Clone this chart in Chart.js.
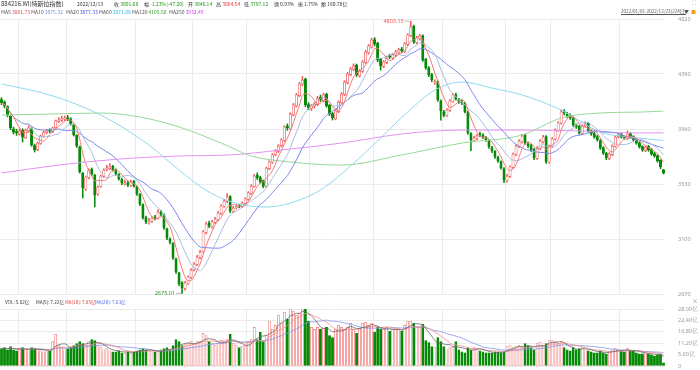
<!DOCTYPE html>
<html>
<head>
<meta charset="utf-8">
<script src="https://cdn.jsdelivr.net/npm/chart.js@4.4.1/dist/chart.umd.min.js"></script>
<style>
  body { margin: 0; background: #fff; font-family: "Noto Sans CJK SC", "Noto Sans", sans-serif; }
  #wrap { position: relative; width: 700px; height: 370px; overflow: hidden; }
  .t { position: absolute; white-space: nowrap; font-size: 5px; line-height: 8px; color: #333; }
  .g { color: #149614; }
  .r { color: #e03434; }
  canvas { position: absolute; left: 0; }
</style>
</head>
<body>
<div id="wrap">
  <canvas id="main" width="700" height="298" style="top:0"></canvas>
  <canvas id="vol" width="700" height="74" style="top:296px"></canvas>

  <div class="t" style="left:1px;top:0;font-size:6px">884216.WI(特斯拉指数)</div>
  <div class="t" style="left:77px;top:0">2022/12/13</div>
  <div class="t" style="left:114px;top:0">收 <span class="g">3801.68</span></div>
  <div class="t" style="left:144px;top:0">幅 <span class="g">-1.23%(-47.20)</span></div>
  <div class="t" style="left:188px;top:0">开 <span class="g">3846.14</span></div>
  <div class="t" style="left:216px;top:0">高 <span class="r">3864.54</span></div>
  <div class="t" style="left:244px;top:0">低 <span class="g">3797.12</span></div>
  <div class="t" style="left:274px;top:0">换 0.93%</div>
  <div class="t" style="left:298px;top:0">振 1.75%</div>
  <div class="t" style="left:321px;top:0">额 160.78亿</div>

  <div class="t" style="left:1px;top:8px;color:#555">MA5 <span style="color:#e84848">3861.73</span></div>
  <div class="t" style="left:31px;top:8px;color:#555">MA10 <span style="color:#6f95d2">3875.32</span></div>
  <div class="t" style="left:66px;top:8px;color:#555">MA20 <span style="color:#3d52e0">3877.33</span></div>
  <div class="t" style="left:99px;top:8px;color:#555">MA60 <span style="color:#2eb4e6">3871.88</span></div>
  <div class="t" style="left:132px;top:8px;color:#555">MA120 <span style="color:#37a037">4105.58</span></div>
  <div class="t" style="left:169px;top:8px;color:#555">MA250 <span style="color:#c43fe0">3932.49</span></div>

  <div class="t" style="left:621px;top:7px;font-size:4.6px;color:#555;text-decoration:underline">2022/01/01-2022/12/23(224日)</div>
  <div class="t" style="left:684px;top:7px;font-size:5px;color:#555">▼</div>
  <div class="t" style="left:691px;top:7px;font-size:5px;color:#f0a020">■</div>
  <div class="t" style="left:692px;top:-1px;font-size:6px;color:#aaa">⛶</div>

  <div class="t" style="left:5px;top:298px;font-size:4.6px">VOL: 5.82亿</div>
  <div class="t" style="left:36px;top:298px;font-size:4.6px">MA(5): 7.22亿</div>
  <div class="t r" style="left:65px;top:298px;font-size:4.6px">MA(10): 7.85亿</div>
  <div class="t" style="left:95px;top:298px;font-size:4.6px;color:#4a64e8">MA(20): 7.63亿</div>
  <div class="t" style="left:692px;top:297px;font-size:6px;color:#888">×</div>
</div>
<script>
// daily candles, index = trading day in the window
const open = [4190,4170,4135,4060,3960,3940,3920,3950,3890,3945,3962,3830,3800,3848,3903,3930,3950,3940,3970,4020,
  4028,4036,4050,4040,3995,3910,3820,3615,3490,3580,3645,3600,3450,3510,3590,3640,3650,3668,3640,3605,
  3565,3530,3540,3520,3550,3510,3450,3370,3268,3225,3238,3270,3262,3315,3290,3180,3100,3068,2945,2835,
  2760,2712,2750,2800,2860,2900,2955,3000,3150,3225,3195,3230,3250,3300,3355,3395,3432,3315,3345,3362,
  3355,3378,3410,3455,3510,3600,3580,3556,3510,3650,3700,3760,3785,3830,3870,3985,3960,4070,4140,4220,
  4310,4350,4150,4120,4138,4150,4210,4180,4232,4145,4080,4040,4095,4165,4230,4320,4385,4425,4460,4375,
  4410,4480,4555,4600,4660,4630,4505,4450,4480,4530,4515,4535,4560,4585,4565,4620,4690,4765,4635,4665,
  4690,4505,4440,4385,4320,4330,4180,4095,4065,4105,4175,4230,4190,4175,4160,4095,3925,3870,3885,3920,
  3910,3890,3870,3815,3785,3738,3705,3650,3555,3590,3660,3760,3825,3860,3910,3845,3830,3800,3730,3805,
  3860,3900,3700,3825,3880,3950,4005,4098,4080,4065,4045,3990,3980,3925,3985,4005,3940,3925,3900,3870,
  3815,3770,3730,3760,3825,3900,3918,3892,3885,3925,3900,3878,3852,3822,3790,3825,3800,3768,3752,3715,
  3640];
const high = [4205,4180,4142,4066,3975,3958,3960,3962,3960,3985,3970,3842,3858,3912,3945,3958,3962,3975,4030,4050,
  4060,4062,4066,4048,4000,3915,3826,3620,3592,3650,3655,3605,3515,3600,3648,3675,3690,3676,3648,3612,
  3575,3560,3552,3560,3558,3515,3455,3375,3280,3262,3275,3285,3330,3325,3296,3186,3110,3072,2950,2840,
  2768,2770,2812,2868,2915,2972,3012,3165,3232,3240,3245,3270,3315,3370,3410,3455,3440,3355,3365,3372,
  3390,3422,3470,3525,3605,3618,3590,3562,3662,3712,3768,3800,3838,3885,3985,4000,4088,4160,4238,4325,
  4370,4358,4165,4152,4170,4215,4225,4240,4240,4152,4090,4110,4180,4245,4338,4402,4442,4470,4468,4425,
  4495,4575,4620,4670,4675,4638,4512,4495,4528,4545,4552,4575,4592,4598,4636,4705,4803.15,4772,4685,4700,
  4696,4512,4448,4395,4345,4336,4188,4105,4120,4190,4238,4240,4200,4190,4168,4100,3932,3905,3918,3935,
  3925,3902,3878,3825,3792,3748,3712,3658,3605,3672,3772,3838,3878,3918,3918,3860,3840,3808,3822,3878,
  3910,3908,3835,3892,3962,4018,4110,4112,4090,4078,4052,4000,3988,3992,4012,4012,3950,3935,3910,3878,
  3822,3778,3775,3836,3906,3925,3928,3905,3945,3932,3908,3885,3860,3830,3828,3832,3808,3778,3758,3720,
  3645];
const low = [4150,4125,4055,3955,3920,3910,3912,3858,3885,3935,3825,3780,3790,3840,3895,3922,3930,3932,3962,4010,
  4018,4025,4025,3990,3905,3815,3615,3420,3480,3570,3595,3350,3440,3505,3582,3632,3642,3630,3598,3560,
  3525,3520,3510,3512,3505,3440,3360,3255,3220,3215,3230,3250,3255,3280,3175,3095,3062,2940,2830,2735,
  2675.01,2700,2742,2792,2850,2892,2945,2995,3140,3188,3185,3220,3242,3292,3348,3385,3305,3305,3335,3345,
  3346,3370,3402,3448,3505,3565,3535,3500,3505,3642,3692,3750,3776,3820,3862,3950,3955,4062,4132,4212,
  4300,4135,4110,4105,4125,4142,4175,4170,4130,4065,4030,4032,4088,4158,4222,4312,4375,4415,4370,4365,
  4402,4472,4545,4592,4610,4485,4420,4440,4470,4510,4505,4525,4550,4558,4558,4612,4682,4628,4625,4655,
  4488,4425,4370,4330,4308,4175,4030,4055,4058,4098,4168,4185,4160,4150,4085,3918,3790,3860,3875,3900,
  3885,3862,3808,3775,3730,3698,3645,3540,3545,3582,3652,3752,3815,3850,3840,3815,3785,3720,3722,3798,
  3850,3690,3692,3815,3872,3942,3998,4070,4050,4035,3980,3965,3918,3918,3975,3935,3910,3888,3865,3800,
  3760,3720,3720,3752,3818,3890,3888,3880,3878,3888,3865,3840,3810,3785,3782,3785,3755,3738,3700,3650,
  3608];
const close = [4163,4140,4069,3968,3936,3929,3944,3897,3952,3968,3835,3796,3850,3905,3936,3944,3944,3968,4023,4030,
  4038,4046,4038,3999,3913,3827,3624,3499,3585,3639,3608,3444,3506,3592,3639,3655,3663,3639,3608,3569,
  3538,3538,3522,3546,3514,3452,3373,3264,3233,3240,3264,3264,3311,3295,3186,3107,3076,2951,2842,2748,
  2717,2756,2803,2857,2904,2959,2998,3155,3217,3201,3233,3256,3303,3358,3397,3428,3319,3342,3350,3358,
  3381,3413,3460,3514,3592,3577,3546,3514,3655,3702,3757,3788,3827,3874,3976,3968,4077,4148,4226,4312,
  4343,4148,4124,4140,4155,4202,4187,4226,4140,4077,4046,4101,4171,4234,4327,4390,4429,4453,4382,4413,
  4484,4562,4609,4656,4625,4499,4453,4484,4515,4523,4539,4562,4578,4570,4625,4695,4758,4640,4672,4687,
  4499,4437,4382,4343,4327,4187,4101,4069,4108,4179,4226,4194,4171,4163,4093,3929,3874,3890,3905,3913,
  3897,3874,3819,3788,3741,3710,3655,3561,3592,3663,3764,3827,3866,3905,3850,3827,3796,3733,3811,3866,
  3897,3702,3827,3882,3952,4007,4093,4085,4061,4046,3991,3976,3929,3983,3999,3944,3921,3897,3874,3811,
  3772,3733,3764,3827,3897,3913,3897,3890,3921,3897,3874,3850,3819,3796,3819,3796,3764,3749,3710,3663,
  3616];
// volume, 亿
const volume = [8.5,9,8,9.5,8,7.5,8.5,9,8,7.5,9,8.5,8,7.5,7,7,7.5,12,15.5,10,
  9,8,8.5,9,10,11,12,11,10,12,13,12.5,10,9,8,8.5,7.5,7,7,7.5,
  6.5,6.5,7,6.5,7,7.5,8,8.5,8,7.5,7,7,7,8,8.5,9,8,10,13,12,
  10,10.5,11,12,11,12,12,16,15,12,11,10,11,12.5,12,13,15.5,11,10,9,
  9.5,10.5,12,13,19,13,16.5,12,15,22,18,20,25,21,26.5,23,28,27,25,26,
  28,28,22,19,18,19,18,18.5,19,15,14,18,20,19,18,19,21,18,16,18.5,
  21,21.5,20,21,16.5,19,18,18,19,17,18,18,18,17,20,22,22,21,19,19,
  20.5,12.5,11.5,9.5,9,14,12,9.5,8,9,9,12,8,7,6.5,9,8,9,8.5,7.5,
  7,6.5,6.5,6.5,7,7,6.5,7,9.5,10,9,9.5,10,9,11,10,9,8,11,11.5,
  10,11,12.5,12.5,12,11,12,9,8,7.5,9,8,8.5,9,8,7.5,7,6.5,6.5,7.5,
  6.5,6,7,8,8.5,8,7.5,7,8.5,7.5,7.5,6.5,6,6,6.5,6,5.5,5,5.5,5.82,
  1.5];
// long averages: [day index, value]
const ma60Pts = [[0,4312],[16,4226],[33,4069],[49,3835],[59,3639],[69,3467],[79,3373],[88,3350],[96,3381],
  [106,3483],[116,3671],[126,3890],[135,4093],[144,4265],[153,4327],[163,4280],[173,4226],[186,4108],
  [199,3936],[209,3897],[220,3870]];
const ma120Pts = [[0,4069],[16,4077],[33,4085],[46,4054],[59,3976],[73,3850],[83,3749],[96,3702],[113,3678],
  [133,3757],[153,3850],[173,3913],[186,4046],[199,4085],[213,4093],[220,4100]];
const ma250Pts = [[0,3616],[19,3678],[39,3725],[59,3749],[76,3757],[93,3796],[113,3850],[133,3921],
  [153,3952],[173,3952],[193,3944],[209,3929],[220,3930]];
const priceTicks = [2670, 3100, 3530, 3960, 4390, 4820];
const volTicks = [0, 5.6, 11.2, 16.8, 22.4, 28];
const monthStarts = [6, 22, 45, 64, 82, 103, 124, 147, 168, 183, 206];

const RED = '#f05a5a', GREEN = '#078a07';
const days = close.map((_, i) => String(i + 1));
const up = close.map((c, i) => c >= open[i]);

function movingAvg(arr, n) {
  return arr.map((_, i) => {
    const s = arr.slice(Math.max(0, i - n + 1), i + 1);
    return s.reduce((a, b) => a + b, 0) / s.length;
  });
}
function sparse(pts) {
  const out = new Array(close.length).fill(null);
  pts.forEach(([i, v]) => { out[i] = v; });
  return out;
}
function line(data, color, width) {
  return { type: 'line', data, borderColor: color, borderWidth: width || 1, pointRadius: 0,
    spanGaps: true, cubicInterpolationMode: 'monotone', order: 0 };
}

const xAxis = {
  offset: true,
  afterFit: s => { s.height = 0; },
  ticks: { display: false, autoSkip: false },
  grid: { drawTicks: false, offset: true, color: c => monthStarts.includes(c.index) ? '#ebebeb' : 'rgba(0,0,0,0)' },
  border: { display: false }
};
function yAxis(min, max, tickVals, fmt) {
  return {
    position: 'right', min, max,
    // fixed axis width; tick padding must not push the plot edges
    afterFit: s => { s.width = 35; s.paddingTop = 0; s.paddingBottom = 0; },
    afterBuildTicks: s => { s.ticks = tickVals.map(v => ({ value: v })); },
    ticks: { color: '#999', padding: 13, font: { size: 5.5, family: 'Noto Sans' }, callback: fmt },
    grid: { drawTicks: false, color: '#ececec' },
    border: { display: false }
  };
}

// high / low marks
const markPlugin = {
  id: 'marks',
  afterDatasetsDraw(chart) {
    const { ctx, scales: { x, y } } = chart;
    const hi = Math.max(...high), lo = Math.min(...low);
    const marks = [[high.indexOf(hi), hi, RED], [low.indexOf(lo), lo, '#2f8f2f']];
    ctx.save();
    ctx.font = '5.5px "Noto Sans"';
    ctx.textAlign = 'right';
    ctx.textBaseline = 'middle';
    marks.forEach(([i, v, col]) => {
      const px = x.getPixelForValue(i), py = y.getPixelForValue(v);
      ctx.strokeStyle = '#9ab';
      ctx.lineWidth = 0.8;
      ctx.beginPath();
      ctx.moveTo(px - 1, py);
      ctx.lineTo(px - 6, py);
      ctx.stroke();
      ctx.fillStyle = col;
      ctx.fillText(v.toFixed(2), px - 7, py);
    });
    ctx.restore();
  }
};

new Chart(document.getElementById('main'), {
  data: {
    labels: days,
    datasets: [
      line(movingAvg(close, 5), '#f27878'),
      line(movingAvg(close, 10), '#a9bbdc'),
      line(movingAvg(close, 20), '#7b88ec'),
      line(sparse(ma60Pts), '#8fd8f0'),
      line(sparse(ma120Pts), '#98d898'),
      line(sparse(ma250Pts), '#e690f2'),
      {
        type: 'bar', order: 1, grouped: false,
        data: close.map((c, i) => [open[i], c]),
        barThickness: 2.4, minBarLength: 1, borderSkipped: false,
        backgroundColor: c => up[c.dataIndex] ? '#ffffff' : GREEN,
        borderColor: c => up[c.dataIndex] ? RED : GREEN,
        borderWidth: 0.7
      },
      {
        type: 'bar', order: 2, grouped: false,
        data: close.map((_, i) => [low[i], high[i]]),
        barThickness: 0.9,
        backgroundColor: c => up[c.dataIndex] ? RED : GREEN
      }
    ]
  },
  options: {
    responsive: false, animation: false, devicePixelRatio: 1,
    layout: { padding: { top: 19, bottom: 4, left: 0, right: 0 } },
    plugins: { legend: { display: false }, tooltip: { enabled: false } },
    scales: { x: xAxis, y: yAxis(2670, 4820, priceTicks, v => v) }
  },
  plugins: [markPlugin]
});

new Chart(document.getElementById('vol'), {
  data: {
    labels: days,
    datasets: [
      line(movingAvg(volume, 5), '#666666', 0.8),
      line(movingAvg(volume, 10), '#f28c8c', 0.8),
      line(movingAvg(volume, 20), '#8196f0', 0.8),
      {
        type: 'bar', order: 1, grouped: false,
        data: volume,
        barThickness: 2.2, borderSkipped: false,
        backgroundColor: c => up[c.dataIndex] ? '#ffffff' : GREEN,
        borderColor: c => up[c.dataIndex] ? '#f07878' : GREEN,
        borderWidth: 0.7
      }
    ]
  },
  options: {
    responsive: false, animation: false, devicePixelRatio: 1,
    layout: { padding: { top: 13, bottom: 4, left: 0, right: 0 } },
    plugins: { legend: { display: false }, tooltip: { enabled: false } },
    scales: { x: xAxis, y: yAxis(0, 28, volTicks, v => v === 0 ? '0' : v.toFixed(2) + '亿') }
  }
});
</script>
</body>
</html>
